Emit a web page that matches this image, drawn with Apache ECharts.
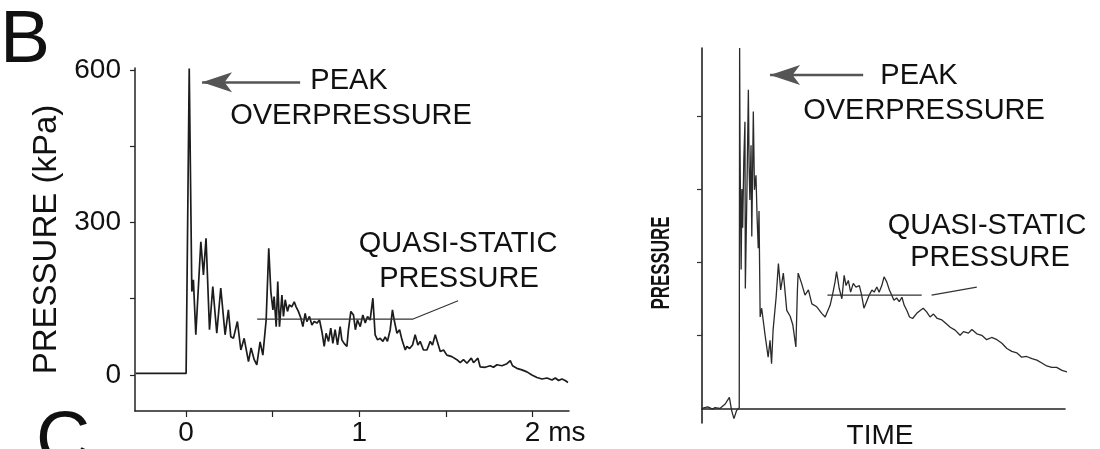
<!DOCTYPE html>
<html>
<head>
<meta charset="utf-8">
<title>Blast pressure traces</title>
<script src="https://cdn.jsdelivr.net/npm/echarts@6.0.0/dist/echarts.min.js"></script>
<style>
  html, body { margin: 0; padding: 0; background: #ffffff; }
  #blastChart { width: 1100px; height: 449px; }
</style>
</head>
<body>
<div id="blastChart"></div>
<script>
// ---------------- data ----------------
// left panel: measured trace, time in ms, pressure in kPa
var leftTime = [-0.29, 0.0, 0.018, 0.033, 0.042, 0.056, 0.085, 0.100, 0.115, 0.135, 0.154, 0.177, 0.200, 0.225, 0.244, 0.258,
    0.273, 0.296, 0.316, 0.335, 0.360, 0.375, 0.393, 0.408, 0.427, 0.443, 0.462, 0.477, 0.489, 0.501, 0.508, 0.520, 0.529,
    0.539, 0.553, 0.562, 0.572, 0.585, 0.596, 0.610, 0.624, 0.635, 0.648, 0.662, 0.674, 0.687, 0.697, 0.712, 0.726, 0.739,
    0.755, 0.770, 0.784, 0.797, 0.808, 0.822, 0.835, 0.847, 0.860, 0.874, 0.889, 0.899, 0.912, 0.928, 0.937, 0.951, 0.966,
    0.977, 0.989, 1.005, 1.020, 1.034, 1.047, 1.062, 1.078, 1.091, 1.105, 1.120, 1.136, 1.149, 1.162, 1.178, 1.191, 1.201,
    1.217, 1.232, 1.246, 1.265, 1.274, 1.290, 1.307, 1.322, 1.338, 1.351, 1.370, 1.390, 1.409, 1.422, 1.438, 1.453, 1.467,
    1.486, 1.505, 1.534, 1.563, 1.582, 1.601, 1.621, 1.646, 1.659, 1.684, 1.697, 1.726, 1.755, 1.774, 1.794, 1.823, 1.852,
    1.871, 1.884, 1.909, 1.938, 1.967, 1.996, 2.025, 2.054, 2.083, 2.112, 2.131, 2.150, 2.169, 2.188, 2.204];
var leftPressure = [3, 3, 603, 164, 187, 79, 262, 197, 269, 89, 174, 82, 171, 79, 128, 75,
    72, 105, 49, 72, 26, 53, 30, 20, 65, 39, 108, 249, 164, 128, 154, 95, 184,
    95, 157, 115, 148, 125, 138, 134, 144, 134, 125, 112, 95, 121, 105, 115, 98, 105,
    102, 108, 85, 56, 82, 66, 92, 62, 89, 59, 95, 69, 62, 56, 89, 125, 118,
    89, 108, 95, 118, 102, 115, 108, 151, 79, 69, 72, 66, 75, 66, 89, 128, 108,
    82, 89, 69, 49, 56, 52, 59, 79, 59, 66, 49, 49, 66, 59, 79, 62, 46,
    49, 39, 36, 30, 24, 30, 23, 33, 24, 33, 16, 15, 18, 15, 20, 18, 22,
    28, 18, 13, 10, 6, 0, -5, -8, -6, -10, -6, -11, -8, -11, -15];
// quasi-static level and its leader line [ms, kPa]
var leftQuasi = [[0.41, 110], [1.31, 110], [1.57, 146]];
// peak arrow, tail then head [ms, kPa]
var leftArrow = [[0.658, 576], [0.092, 576]];
var leftTicks = [0, 0.5, 1, 1.5, 2];
var leftTickLabels = [0, 1, 2];
var pressureTicks = [0, 150, 300, 450, 600];
var pressureLabels = [0, 300, 600];

// right panel: schematic trace, arbitrary time and pressure units
var rightTime = [0, 1.5, 2.8, 3.4, 4.7, 6.1, 7.2, 7.8, 8.4, 9.1, 9.8, 9.9, 10.0, 10.3, 10.5, 10.7, 11.0, 11.3, 11.4,
    11.8, 12.2, 12.4, 12.6, 12.9, 13.1, 13.5, 13.8, 14.2, 14.5, 14.8, 15.0, 15.3, 15.7, 16.6, 17.4, 17.9, 18.3, 18.7,
    19.5, 20.1, 20.7, 21.4, 22.3, 23.2, 23.9, 24.7,
    25.1, 25.3, 26.2, 27.1, 28.0, 28.9, 30.2, 31.5, 32.4, 32.8, 33.7, 34.4, 35.0, 35.4, 36.1, 36.8, 37.4, 37.9, 38.5,
    39.1, 39.8, 40.5, 41.4, 42.0, 42.6, 43.3, 44.0, 44.7, 45.3, 46.0, 46.6, 47.3, 47.9, 48.6, 49.3, 49.9, 50.5, 51.2,
    51.9, 52.6, 53.2, 53.9, 54.6, 55.4, 56.5, 57.4, 58.2, 59.1, 60.0, 60.9, 61.9, 63.1, 64.2, 65.3, 66.6, 67.9, 68.8,
    70.1, 71.0, 72.3, 73.6, 74.9, 76.2, 77.6, 78.9, 80.2, 81.5, 82.8, 84.1, 85.4, 86.8, 88.1, 89.4, 90.7, 92.0, 93.3,
    94.7, 96.0, 97.3, 98.2];
var rightPressure = [0, 0.02, -0.01, 0.01, 0, 0.06, 0.15, -0.03, -0.14, -0.03, 0.01, 4.93, 3.6, 1.9, 3.0, 2.47, 3.4, 3.92, 1.64,
    2.9, 4.36, 3.3, 2.85, 3.6, 2.35, 4.06, 2.99, 3.19, 2.6, 2.19, 2.7, 1.25, 1.37, 1.0, 0.70, 0.93, 0.61, 1.07,
    1.52, 1.98, 1.62, 1.85, 1.34, 1.26, 1.14, 0.84,
    1.62, 1.85, 1.71, 1.55, 1.62, 1.43, 1.39, 1.30, 1.25, 1.23, 1.41, 1.57, 1.73, 1.87, 1.64, 1.50, 1.82, 1.68, 1.75,
    1.59, 1.71, 1.66, 1.68, 1.55, 1.37, 1.46, 1.55, 1.62, 1.59, 1.66, 1.59, 1.68, 1.80, 1.73, 1.62, 1.55, 1.48, 1.51,
    1.46, 1.52, 1.41, 1.34, 1.25, 1.23, 1.30, 1.34, 1.37, 1.32, 1.25, 1.29, 1.23, 1.21, 1.16, 1.11, 1.07, 1.00, 1.05,
    1.03, 1.08, 1.02, 1.00, 0.94, 0.97, 0.94, 0.89, 0.82, 0.78, 0.76, 0.70, 0.71, 0.68, 0.66, 0.62, 0.58, 0.56, 0.56,
    0.52, 0.50, 0.47, 0.45];
var rightQuasi = [[33.0, 1.55], [57.8, 1.55], [59.0, '-'], [60.4, 1.55], [72.3, 1.66]];
var rightArrow = [[42.4, 4.56], [17.9, 4.56]];
var rightTicks = [1, 2, 3, 4];

function zip(xs, ys) {
    var out = [];
    for (var i = 0; i < xs.length; i++) {
        out.push([xs[i], ys[i]]);
    }
    return out;
}

// ---------------- chart ----------------
var FONT = 'Liberation Sans';
var chart = echarts.init(document.getElementById('blastChart'), null, { renderer: 'canvas' });

function label(txt, x, y, size) {
    return {
        type: 'text', x: x, y: y, silent: true,
        style: {
            text: txt, font: (size || 29) + 'px "' + FONT + '"', fill: '#111',
            align: 'center', verticalAlign: 'middle', textAlign: 'center', textVerticalAlign: 'middle'
        }
    };
}

var option = {
    backgroundColor: '#ffffff',
    animation: false,
    grid: [
        { left: 135, top: 68, width: 434, height: 343 },
        { left: 702, top: 48, width: 363, height: 375 }
    ],
    xAxis: [{
        gridIndex: 0,
        type: 'value',
        min: -0.295,
        max: 2.21,
        splitLine: { show: false },
        axisLine: { onZero: false, lineStyle: { color: '#222', width: 1.5 } },
        axisTick: { customValues: leftTicks, length: 6, lineStyle: { color: '#222', width: 1.2 } },
        axisLabel: {
            customValues: leftTickLabels,
            margin: 8,
            color: '#111',
            fontFamily: FONT,
            fontSize: 28,
            formatter: function (v) {
                if (v === 2) return '{p|}2 ms';
                return String(v);
            },
            rich: { p: { width: 45 } }
        }
    }, {
        gridIndex: 1,
        type: 'value',
        min: 0,
        max: 95.5,
        splitLine: { show: false },
        axisLine: { lineStyle: { color: '#222', width: 1.6 } },
        axisTick: { show: false },
        axisLabel: { show: false }
    }],
    yAxis: [{
        gridIndex: 0,
        type: 'value',
        min: -71,
        max: 604,
        name: 'PRESSURE (kPa)',
        nameLocation: 'middle',
        nameGap: 72,
        nameTextStyle: { fontFamily: FONT, fontSize: 33, color: '#111' },
        splitLine: { show: false },
        axisLine: { onZero: false, lineStyle: { color: '#222', width: 1.5 } },
        axisTick: { customValues: pressureTicks, length: 5, lineStyle: { color: '#222', width: 1.2 } },
        axisLabel: { customValues: pressureLabels, margin: 14, color: '#111', fontFamily: FONT, fontSize: 28 }
    }, {
        gridIndex: 1,
        type: 'value',
        min: -0.2,
        max: 4.93,
        splitLine: { show: false },
        axisLine: { lineStyle: { color: '#222', width: 1.6 } },
        axisTick: { customValues: rightTicks, length: 5, lineStyle: { color: '#333', width: 1.2 } },
        axisLabel: { show: false }
    }],
    series: [{
        name: 'measured',
        type: 'line',
        xAxisIndex: 0,
        yAxisIndex: 0,
        showSymbol: false,
        silent: true,
        lineStyle: { color: '#1c1c1c', width: 1.7 },
        data: zip(leftTime, leftPressure),
        markLine: {
            silent: true,
            symbol: ['none', 'arrow'],
            symbolSize: [15, 30],
            label: { show: false },
            lineStyle: { color: '#555', width: 2.6, type: 'solid' },
            data: [[{ coord: leftArrow[0] }, { coord: leftArrow[1] }]]
        }
    }, {
        name: 'quasi left',
        type: 'line',
        xAxisIndex: 0,
        yAxisIndex: 0,
        showSymbol: false,
        silent: true,
        lineStyle: { color: '#333', width: 1.2 },
        data: leftQuasi
    }, {
        name: 'schematic',
        type: 'line',
        xAxisIndex: 1,
        yAxisIndex: 1,
        showSymbol: false,
        silent: true,
        clip: false,
        lineStyle: { color: '#2a2a2a', width: 1.3 },
        data: zip(rightTime, rightPressure),
        markLine: {
            silent: true,
            symbol: ['none', 'arrow'],
            symbolSize: [15, 30],
            label: { show: false },
            lineStyle: { color: '#555', width: 2.4, type: 'solid' },
            data: [[{ coord: rightArrow[0] }, { coord: rightArrow[1] }]]
        }
    }, {
        name: 'quasi right',
        type: 'line',
        xAxisIndex: 1,
        yAxisIndex: 1,
        showSymbol: false,
        silent: true,
        connectNulls: false,
        lineStyle: { color: '#333', width: 1.2 },
        data: rightQuasi
    }],
    graphic: [
        {
            type: 'text', x: 0, y: 41, silent: true,
            style: { text: 'B', font: '75px "' + FONT + '"', fill: '#111', align: 'left', verticalAlign: 'middle', textAlign: 'left', textVerticalAlign: 'middle' }
        },
        {
            type: 'text', x: 36, y: 442, silent: true,
            style: { text: 'C', font: '75px "' + FONT + '"', fill: '#111', align: 'left', verticalAlign: 'middle', textAlign: 'left', textVerticalAlign: 'middle' }
        },
        label('PEAK', 349, 81),
        label('OVERPRESSURE', 351, 116),
        label('QUASI-STATIC', 458, 244),
        label('PRESSURE', 459, 279),
        label('PEAK', 919, 76),
        label('OVERPRESSURE', 924, 111),
        label('QUASI-STATIC', 987, 226),
        label('PRESSURE', 990, 258),
        label('TIME', 880, 436, 28),
        {
            type: 'text', x: 662, y: 263, rotation: Math.PI / 2, scaleX: 0.65, silent: true,
            style: { text: 'PRESSURE', font: 'bold 26px "' + FONT + '"', fill: '#111', align: 'center', verticalAlign: 'middle', textAlign: 'center', textVerticalAlign: 'middle' }
        }
    ]
};

if (option && typeof option === 'object') {
    chart.setOption(option, true);
}
window.addEventListener('resize', function () {
    chart.resize();
});
</script>
</body>
</html>
